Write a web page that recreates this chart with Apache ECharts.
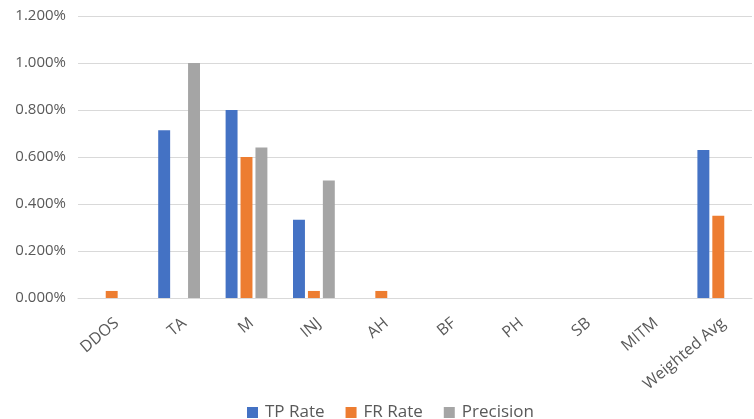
<!DOCTYPE html>
<html>
<head>
<meta charset="utf-8">
<script src="https://cdn.jsdelivr.net/npm/echarts@6/dist/echarts.min.js"></script>
<style>
  html, body { margin: 0; padding: 0; background: #fff; }
  #chart { width: 754px; height: 419px; }
</style>
</head>
<body>
<div id="chart"></div>
<script>
// Detection metrics per attack class (values in percent)
const categories = ['DDOS', 'TA', 'M', 'INJ', 'AH', 'BF', 'PH', 'SB', 'MITM', 'Weighted Avg'];
const tpRate    = [0, 0.714, 0.8, 0.333, 0, 0, 0, 0, 0, 0.63];
const frRate    = [0.03, 0, 0.6, 0.03, 0.03, 0, 0, 0, 0, 0.35];
const precision = [0, 1.0, 0.64, 0.5, 0, 0, 0, 0, 0, 0];
const yTicks = { min: 0, max: 1.2, interval: 0.2 };

const textColor = '#595959';
const font = 'Open Sans';

const chart = echarts.init(document.getElementById('chart'));
const mkSeries = (name, data, color) => ({
  name, type: 'bar', data,
  itemStyle: { color },
  barGap: '25%',
  barCategoryGap: '38%'
});

chart.setOption({
  animation: false,
  grid: { left: 78, right: 2, top: 16, bottom: 121 },
  legend: {
    top: 399,
    left: 242,
    itemWidth: 11,
    itemHeight: 11,
    itemGap: 21,
    icon: 'rect',
    textStyle: { color: textColor, fontFamily: font, fontSize: 17, padding: [0, 0, 0, 2] },
    data: ['TP Rate', 'FR Rate', 'Precision']
  },
  xAxis: {
    type: 'category',
    data: categories,
    axisLine: { lineStyle: { color: '#d9d9d9' } },
    axisTick: { show: false },
    axisLabel: {
      rotate: 40,
      interval: 0,
      margin: 17,
      verticalAlign: 'top',
      color: textColor,
      fontFamily: font,
      fontSize: 16
    }
  },
  yAxis: {
    type: 'value',
    min: yTicks.min,
    max: yTicks.max,
    interval: yTicks.interval,
    axisLine: { show: false },
    axisTick: { show: false },
    splitLine: { lineStyle: { color: '#d9d9d9', width: 1 } },
    axisLabel: {
      margin: 12,
      color: textColor,
      fontFamily: font,
      fontSize: 15,
      formatter: v => v.toFixed(3) + '%'
    }
  },
  series: [
    mkSeries('TP Rate', tpRate, '#4472C4'),
    mkSeries('FR Rate', frRate, '#ED7D31'),
    mkSeries('Precision', precision, '#A5A5A5')
  ]
});
</script>
</body>
</html>
